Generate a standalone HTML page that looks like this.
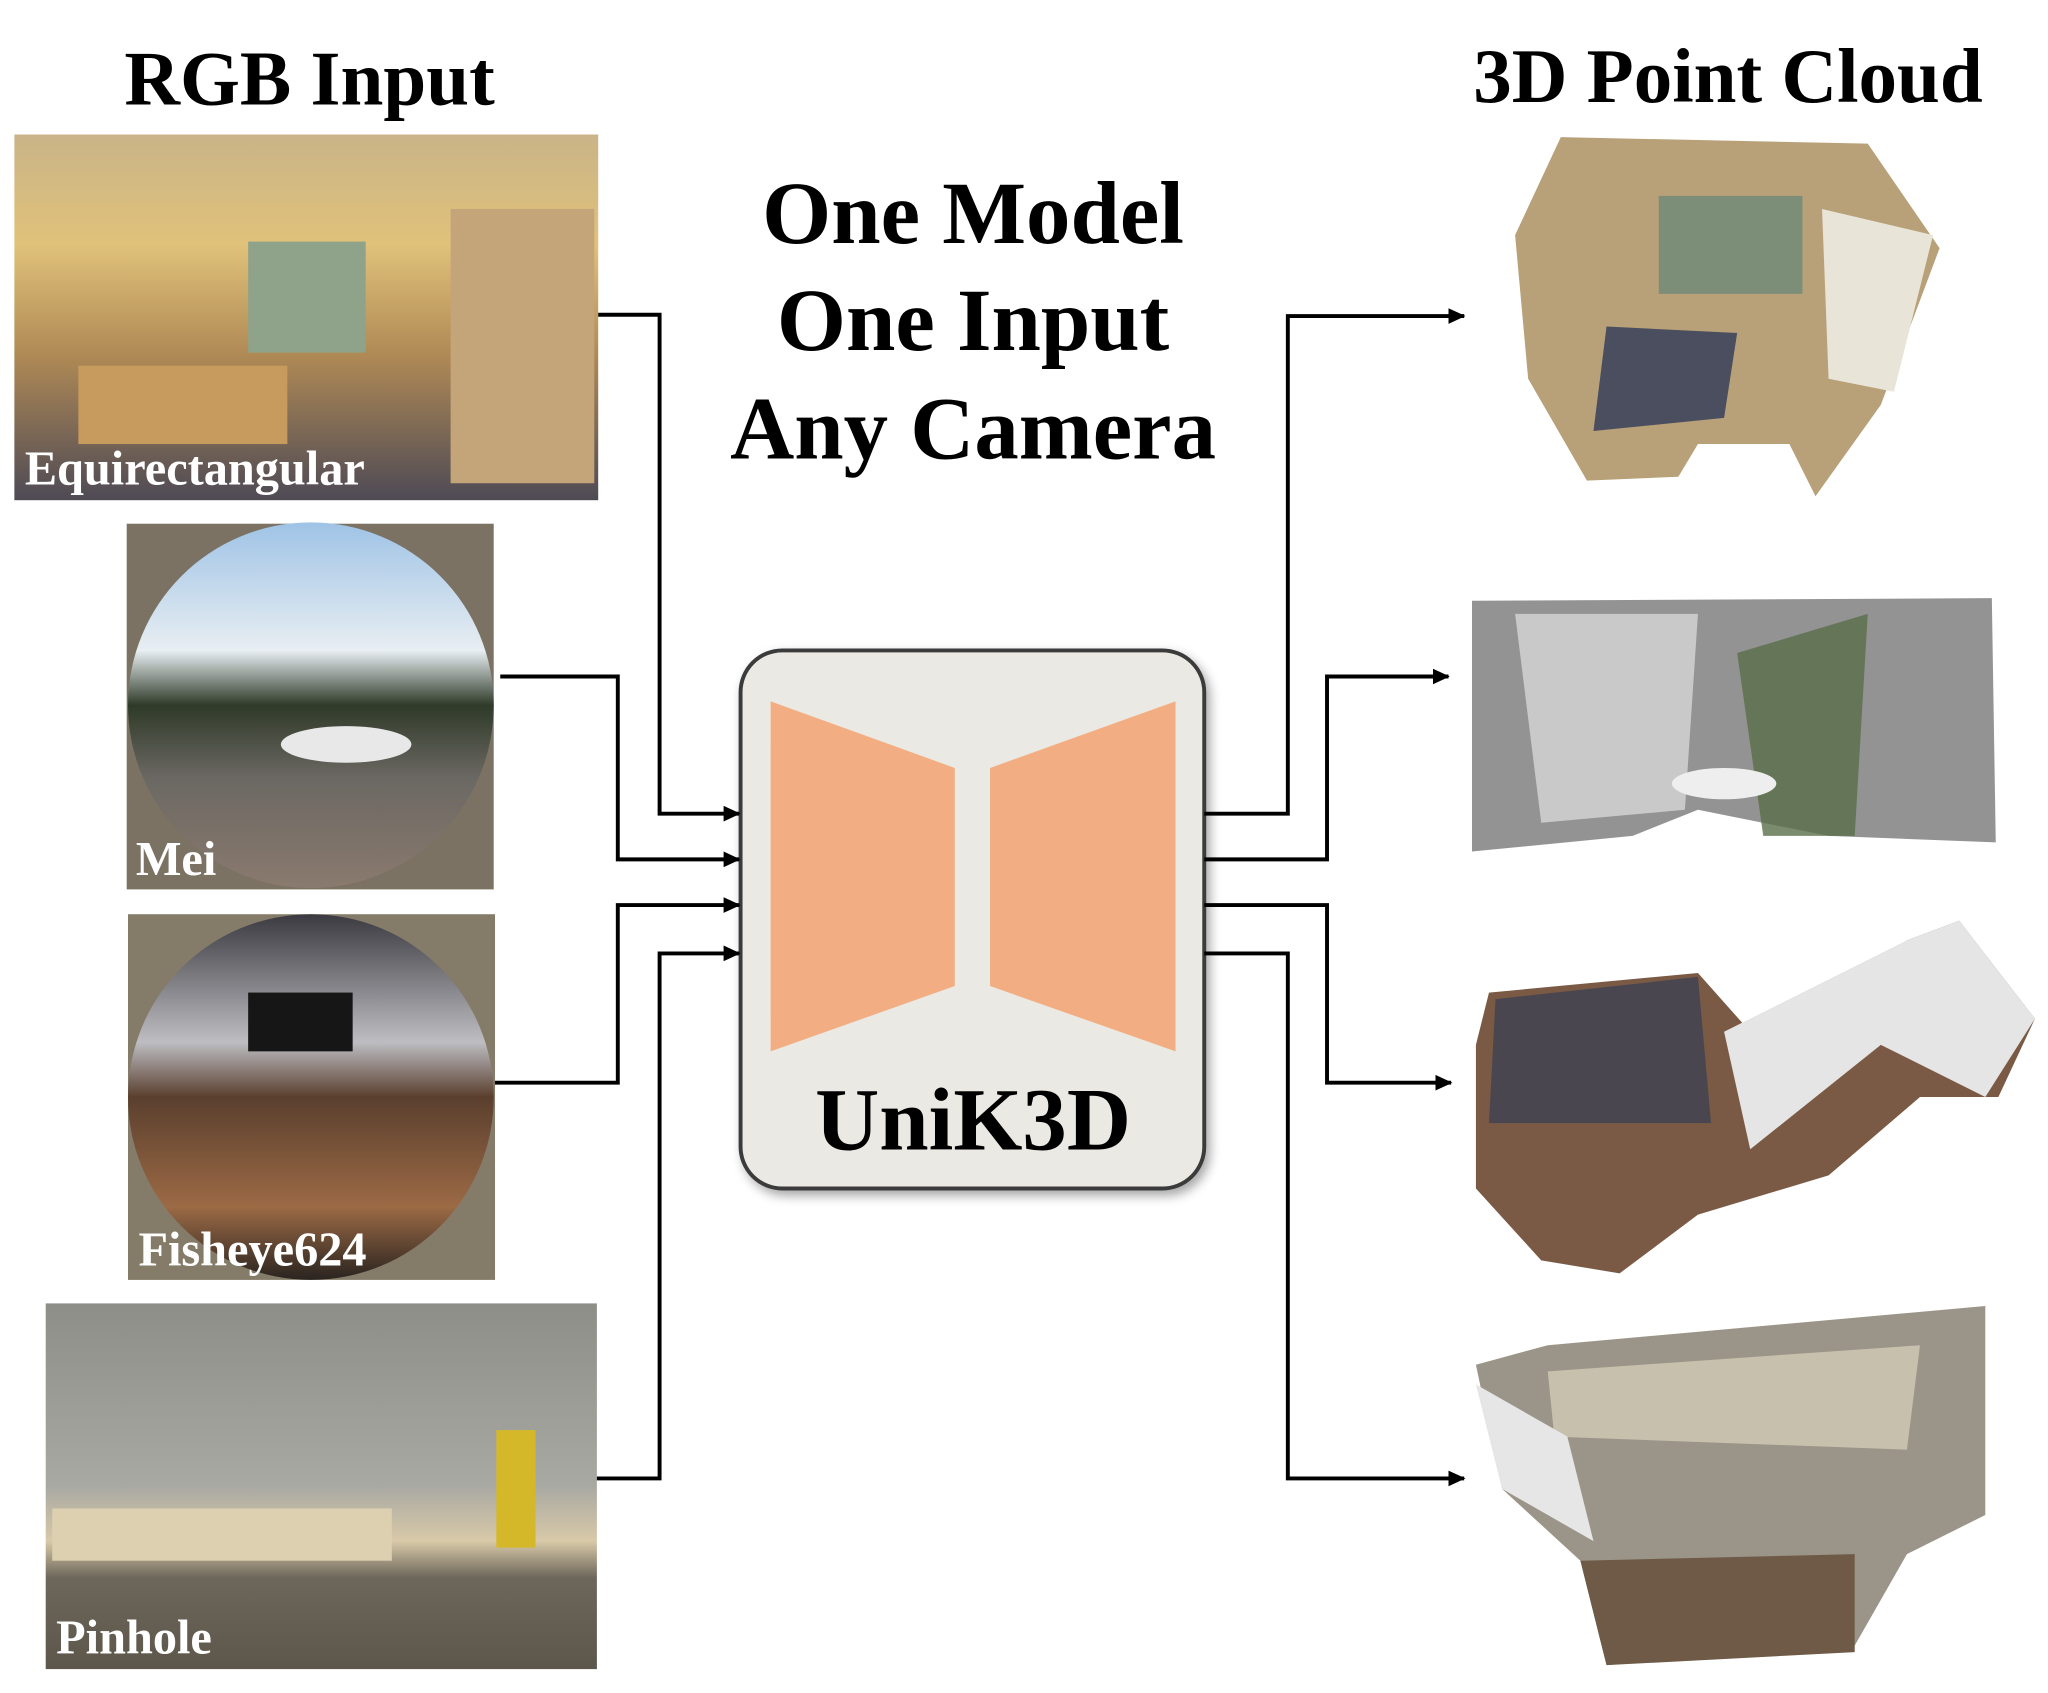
<!DOCTYPE html>
<html><head><meta charset="utf-8"><style>
html,body{margin:0;padding:0;background:#fff;}
svg{display:block;}
text{font-family:"Liberation Serif",serif;font-weight:bold;}
</style></head><body>
<svg width="2048" height="1693" viewBox="0 0 1568 1296.3" preserveAspectRatio="none" xmlns="http://www.w3.org/2000/svg">
<defs>
<marker id="ar" markerWidth="13" markerHeight="12" refX="12" refY="6" orient="auto" markerUnits="userSpaceOnUse"><path d="M0,0 L13,6 L0,12 Z" fill="#000"/></marker>
<linearGradient id="eq" x1="0" y1="0" x2="0" y2="1"><stop offset="0" stop-color="#c9b488"/><stop offset="0.3" stop-color="#e0c27a"/><stop offset="0.6" stop-color="#b08a55"/><stop offset="1" stop-color="#4e4a55"/></linearGradient>
<linearGradient id="sky" x1="0" y1="0" x2="0" y2="1"><stop offset="0" stop-color="#9fc3e6"/><stop offset="0.35" stop-color="#e8eef2"/><stop offset="0.5" stop-color="#2f3a28"/><stop offset="0.7" stop-color="#6b6863"/><stop offset="1" stop-color="#8a7a6e"/></linearGradient>
<linearGradient id="fe" x1="0" y1="0" x2="0" y2="1"><stop offset="0" stop-color="#3a3a40"/><stop offset="0.35" stop-color="#bdbdc2"/><stop offset="0.5" stop-color="#5a3f2e"/><stop offset="0.8" stop-color="#9c6a45"/><stop offset="1" stop-color="#2a2420"/></linearGradient>
<linearGradient id="ph" x1="0" y1="0" x2="0" y2="1"><stop offset="0" stop-color="#8d8e88"/><stop offset="0.5" stop-color="#a9a9a3"/><stop offset="0.65" stop-color="#d8c9a8"/><stop offset="0.75" stop-color="#6d675b"/><stop offset="1" stop-color="#5d574b"/></linearGradient>
<filter id="sh" x="-10%" y="-10%" width="130%" height="130%"><feDropShadow dx="3" dy="4" stdDeviation="4" flood-color="#000" flood-opacity="0.35"/></filter>
</defs>

<text x="237" y="80" font-size="59" text-anchor="middle">RGB Input</text>
<text x="1323" y="78" font-size="59" text-anchor="middle">3D Point Cloud</text>

<rect x="11" y="103" width="447" height="280" fill="url(#eq)"/>
<rect x="190" y="185" width="90" height="85" fill="#8fa28a"/>
<rect x="345" y="160" width="110" height="210" fill="#c4a57a"/>
<rect x="60" y="280" width="160" height="60" fill="#c79a5e"/>
<text x="19" y="371" font-size="37" fill="#fff">Equirectangular</text>

<rect x="97" y="401" width="281" height="280" fill="#7b7263"/>
<circle cx="238" cy="540" r="140" fill="url(#sky)"/>
<ellipse cx="265" cy="570" rx="50" ry="14" fill="#e8e8e8"/>
<text x="104" y="670" font-size="37" fill="#fff">Mei</text>

<rect x="98" y="700" width="281" height="280" fill="#857b69"/>
<circle cx="238" cy="840" r="140" fill="url(#fe)"/>
<rect x="190" y="760" width="80" height="45" fill="#161616"/>
<text x="106" y="969" font-size="37" fill="#fff">Fisheye624</text>

<rect x="35" y="998" width="422" height="280" fill="url(#ph)"/>
<rect x="40" y="1155" width="260" height="40" fill="#ddd0b0"/>
<rect x="380" y="1095" width="30" height="90" fill="#d4b82a"/>
<text x="43" y="1266" font-size="37" fill="#fff">Pinhole</text>

<text x="745" y="186" font-size="68" text-anchor="middle">One Model</text>
<text x="745" y="268" font-size="68" text-anchor="middle">One Input</text>
<text x="745" y="351" font-size="68" text-anchor="middle">Any Camera</text>

<rect x="567" y="498" width="355" height="412" rx="32" fill="#ebe9e3" stroke="#3a3a3a" stroke-width="3" filter="url(#sh)"/>
<polygon points="590,537 731,588 731,755 590,805" fill="#f2ae82"/>
<polygon points="758,588 900,537 900,805 758,755" fill="#f2ae82"/>
<text x="745" y="880" font-size="68" text-anchor="middle">UniK3D</text>

<g fill="none" stroke="#000" stroke-width="3" marker-end="url(#ar)">
<polyline points="458,241 505,241 505,623 566,623"/>
<polyline points="383,518 473,518 473,658 566,658"/>
<polyline points="379,829 473,829 473,693 566,693"/>
<polyline points="457,1132 505,1132 505,730 566,730"/>
<polyline points="922,623 986,623 986,242 1121,242"/>
<polyline points="922,658 1016,658 1016,518 1109,518"/>
<polyline points="922,693 1016,693 1016,829 1111,829"/>
<polyline points="922,730 986,730 986,1132 1121,1132"/>
</g>

<polygon points="1195,105 1430,110 1485,190 1440,310 1390,380 1370,340 1300,340 1285,365 1215,368 1170,290 1160,180" fill="#b8a178"/>
<rect x="1270" y="150" width="110" height="75" fill="#7d8e78"/>
<polygon points="1395,160 1480,180 1450,300 1400,290" fill="#e8e4d8"/>
<polygon points="1230,250 1330,255 1320,320 1220,330" fill="#4a4e5e"/>

<polygon points="1127,460 1525,458 1528,645 1400,640 1300,620 1250,640 1127,652" fill="#3a3a3a" opacity="0.55"/>
<polygon points="1160,470 1300,470 1290,620 1180,630" fill="#fff" opacity="0.5"/>
<polygon points="1330,500 1430,470 1420,640 1350,640" fill="#5a6e48" opacity="0.8"/>
<ellipse cx="1320" cy="600" rx="40" ry="12" fill="#eee"/>

<polygon points="1140,760 1300,745 1340,790 1460,720 1500,705 1558,780 1530,840 1470,840 1400,900 1300,930 1240,975 1180,965 1130,910 1130,800" fill="#7a5a44"/>
<polygon points="1320,790 1460,720 1500,705 1558,780 1520,840 1440,800 1340,880" fill="#e5e5e5"/>
<polygon points="1145,765 1300,748 1310,860 1200,860 1140,860" fill="#4a4650"/>

<polygon points="1130,1045 1185,1030 1520,1000 1520,1160 1460,1190 1420,1260 1230,1275 1210,1195 1150,1140" fill="#9b9488"/>
<polygon points="1185,1050 1470,1030 1460,1110 1190,1100" fill="#c7c0ad"/>
<polygon points="1210,1195 1420,1190 1420,1265 1230,1275" fill="#6e5a46"/>
<polygon points="1130,1060 1200,1100 1220,1180 1150,1140" fill="#e6e6e6"/>
</svg>
</body></html>
